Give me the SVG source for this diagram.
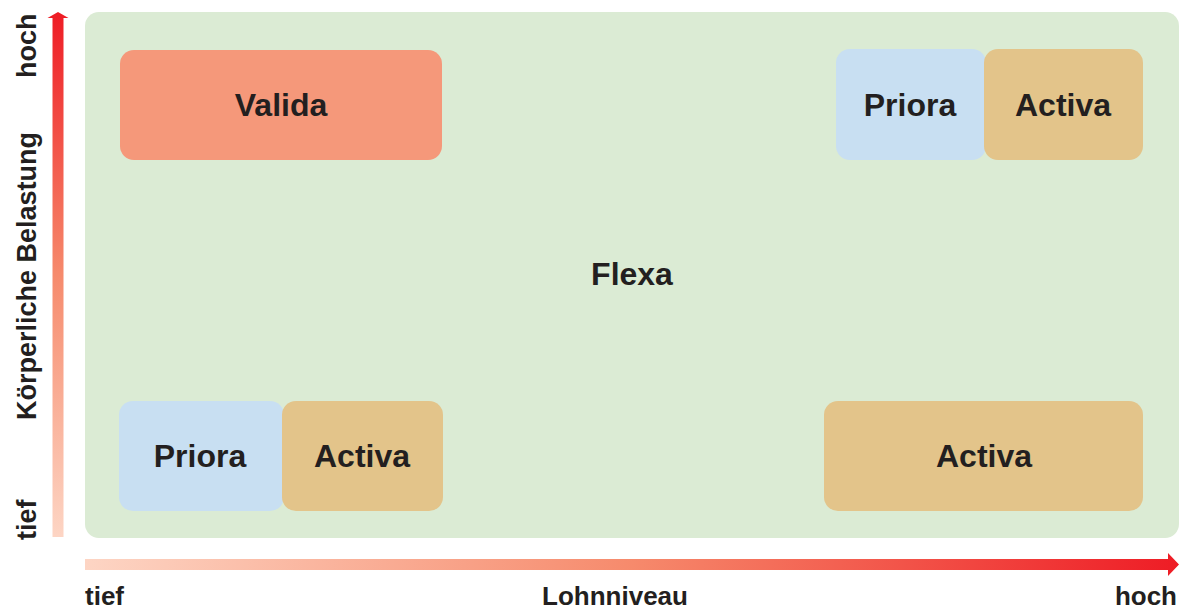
<svg xmlns="http://www.w3.org/2000/svg" width="1179" height="610" viewBox="0 0 1179 610">
<defs>
<linearGradient id="gv" x1="0" y1="1" x2="0" y2="0">
<stop offset="0" stop-color="#fdd5c4"/>
<stop offset="0.5" stop-color="#f68a6c"/>
<stop offset="1" stop-color="#ee1c25"/>
</linearGradient>
<linearGradient id="gh" x1="0" y1="0" x2="1" y2="0">
<stop offset="0" stop-color="#fdd5c4"/>
<stop offset="0.5" stop-color="#f68a6c"/>
<stop offset="1" stop-color="#ee1c25"/>
</linearGradient>
<style>
text{font-family:"Liberation Sans",Arial,sans-serif;font-weight:bold;fill:#231f20}
.n{font-size:32px;text-anchor:middle}
.a{font-size:26px}
.v{font-size:27px}
.priora{fill:#c8dff2}
.activa{fill:#e3c48a}
.valida{fill:#f5987a}
</style>
</defs>
<rect id="panel" x="85" y="12" width="1094" height="526" rx="14" fill="#dbebd4"/>
<g id="axes">
<path d="M52.5 537 V18 H47.5 L58 12 L68.5 18 H63.5 V537 Z" fill="url(#gv)"/>
<path d="M85 559 H1168 V553 L1179 564.5 L1168 576 V570 H85 Z" fill="url(#gh)"/>
</g>
<g id="valida"><rect class="valida" x="120" y="50" width="322" height="110" rx="14"/><text class="n" x="281" y="116">Valida</text></g>
<g id="priora-top"><rect class="priora" x="836" y="49" width="150" height="111" rx="14"/><text class="n" x="910" y="116">Priora</text></g>
<g id="activa-top"><rect class="activa" x="984" y="49" width="159" height="111" rx="14"/><text class="n" x="1063" y="116">Activa</text></g>
<g id="flexa"><text class="n" x="632" y="285">Flexa</text></g>
<g id="priora-bottom"><rect class="priora" x="119" y="401" width="165" height="110" rx="14"/><text class="n" x="200" y="467">Priora</text></g>
<g id="activa-bottom"><rect class="activa" x="282" y="401" width="161" height="110" rx="14"/><text class="n" x="362" y="467">Activa</text></g>
<g id="activa-right"><rect class="activa" x="824" y="401" width="319" height="110" rx="14"/><text class="n" x="984" y="467">Activa</text></g>
<g id="labels">
<text class="a" x="85" y="605">tief</text>
<text class="a" x="615" y="605" text-anchor="middle">Lohnniveau</text>
<text class="a" x="1177" y="605" text-anchor="end">hoch</text>
<text class="v" transform="translate(36 78) rotate(-90)">hoch</text>
<text class="v" transform="translate(36 276) rotate(-90)" text-anchor="middle">Körperliche Belastung</text>
<text class="v" transform="translate(36 540) rotate(-90)">tief</text>
</g>
</svg>
